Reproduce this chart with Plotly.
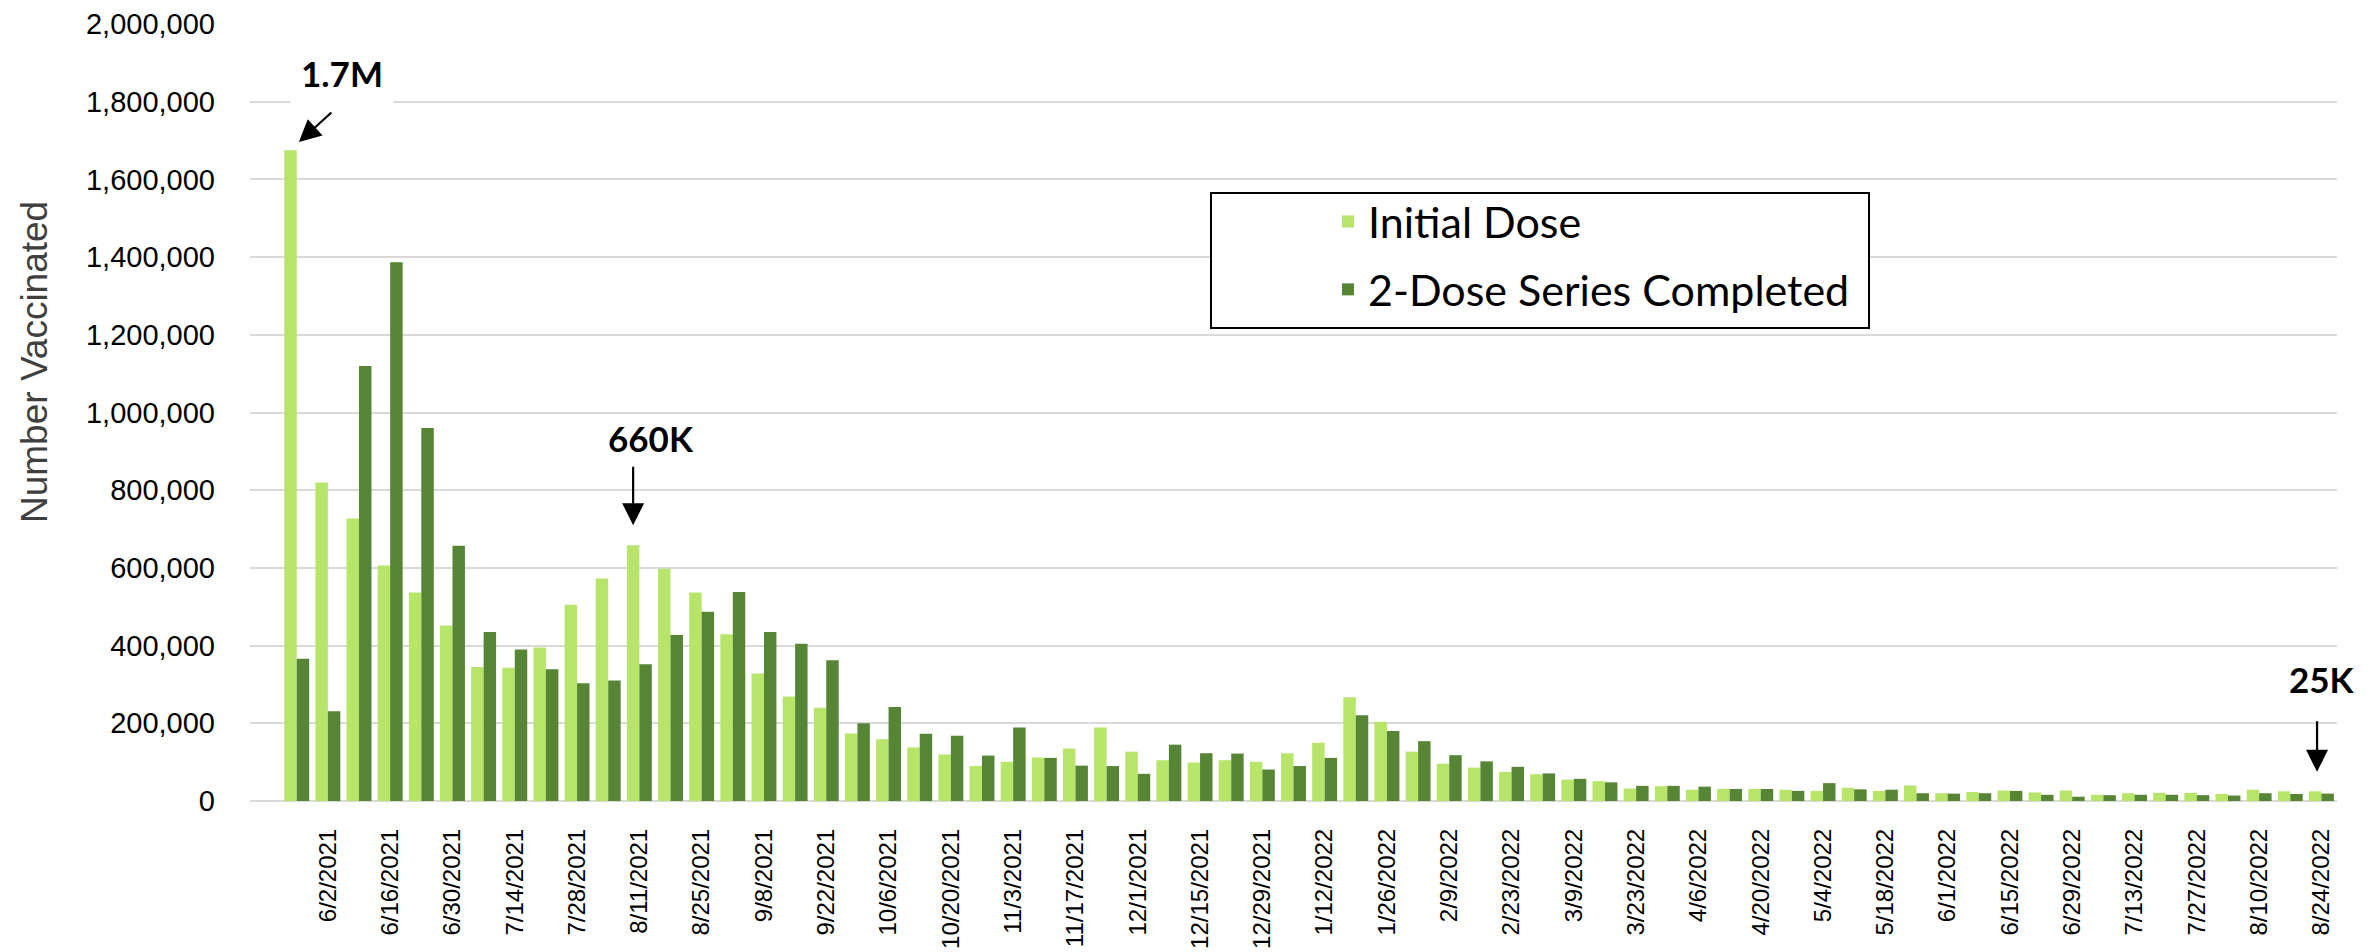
import plotly.graph_objects as go

weeks = [
    "5/26/2021", "6/2/2021", "6/9/2021", "6/16/2021", "6/23/2021", "6/30/2021",
    "7/7/2021", "7/14/2021", "7/21/2021", "7/28/2021", "8/4/2021", "8/11/2021",
    "8/18/2021", "8/25/2021", "9/1/2021", "9/8/2021", "9/15/2021", "9/22/2021",
    "9/29/2021", "10/6/2021", "10/13/2021", "10/20/2021", "10/27/2021", "11/3/2021",
    "11/10/2021", "11/17/2021", "11/24/2021", "12/1/2021", "12/8/2021", "12/15/2021",
    "12/22/2021", "12/29/2021", "1/5/2022", "1/12/2022", "1/19/2022", "1/26/2022",
    "2/2/2022", "2/9/2022", "2/16/2022", "2/23/2022", "3/2/2022", "3/9/2022",
    "3/16/2022", "3/23/2022", "3/30/2022", "4/6/2022", "4/13/2022", "4/20/2022",
    "4/27/2022", "5/4/2022", "5/11/2022", "5/18/2022", "5/25/2022", "6/1/2022",
    "6/8/2022", "6/15/2022", "6/22/2022", "6/29/2022", "7/6/2022", "7/13/2022",
    "7/20/2022", "7/27/2022", "8/3/2022", "8/10/2022", "8/17/2022", "8/24/2022",
]

initial_dose = [
    1675000, 820000, 727000, 606000, 537000, 452000,
    345000, 343000, 395000, 505000, 573000, 658000,
    598000, 537000, 429000, 328000, 269000, 240000,
    174000, 159000, 138000, 120000, 90000, 101000,
    112000, 135000, 189000, 127000, 105000, 99000,
    105000, 101000, 123000, 150000, 267000, 204000,
    127000, 96000, 86000, 75000, 69000, 55000,
    51000, 32000, 38000, 29000, 31000, 31000,
    29000, 26000, 34000, 26000, 40000, 20000,
    23000, 27000, 22000, 27000, 16000, 20000,
    21000, 21000, 18000, 29000, 25000, 25000,
]

series_completed = [
    366000, 231000, 1120000, 1387000, 960000, 657000,
    435000, 390000, 339000, 303000, 310000, 352000,
    427000, 487000, 538000, 435000, 405000, 362000,
    200000, 242000, 173000, 168000, 117000, 189000,
    111000, 91000, 90000, 70000, 145000, 123000,
    122000, 81000, 90000, 111000, 221000, 180000,
    154000, 118000, 102000, 88000, 71000, 57000,
    48000, 39000, 39000, 37000, 31000, 31000,
    26000, 46000, 30000, 29000, 20000, 19000,
    20000, 26000, 16000, 11000, 15000, 16000,
    16000, 15000, 14000, 20000, 18000, 19000,
]

tick_labels = weeks[1::2]
y_ticks = [0, 200000, 400000, 600000, 800000, 1000000, 1200000,
           1400000, 1600000, 1800000, 2000000]

LIGHT = "#B7E56A"
DARK = "#568536"
SANS = "Liberation Sans, Arial, sans-serif"
CAL = "Lato, Carlito, Calibri, sans-serif"

fig = go.Figure()
fig.add_trace(go.Bar(name="Initial Dose", x=weeks, y=initial_dose,
                     legendgroup="a",
                     marker=dict(color=LIGHT, line=dict(width=0))))
fig.add_trace(go.Bar(name="2-Dose Series Completed", x=weeks, y=series_completed,
                     legendgroup="b",
                     marker=dict(color=DARK, line=dict(width=0))))

# the page body adds an 8px offset; margins compensate so the plot lands in place
OFF = 8
W, H = 2379, 952
L, R, T, B = 250 - OFF, 42 + OFF, 24 - OFF, 151 + OFF
pw, ph = W - L - R, H - T - B


def px_x(p):
    return (p - OFF - L) / pw


def px_y(p):
    return 1 - (p - OFF - T) / ph


fig.update_layout(
    width=W, height=H,
    margin=dict(l=L, r=R, t=T, b=B, pad=0, autoexpand=False),
    paper_bgcolor="white", plot_bgcolor="white",
    barmode="group", bargap=0.2, bargroupgap=0,
    showlegend=True,
    legend=dict(x=px_x(1328), y=px_y(187), xanchor="left", yanchor="top",
                bgcolor="rgba(0,0,0,0)", borderwidth=0,
                font=dict(family=CAL, size=43, color="black"),
                tracegroupgap=9, itemsizing="constant"),
    xaxis=dict(type="category", range=[-1.5, len(weeks) - 0.5], automargin=False,
               tickmode="array", tickvals=tick_labels, ticktext=tick_labels,
               tickangle=-90, ticks="", showgrid=False, showline=False,
               ticklabelstandoff=22,
               tickfont=dict(family=SANS, size=24, color="black")),
    yaxis=dict(range=[0, 2000000], tickmode="array", tickvals=y_ticks, automargin=False,
               tickformat=",d", showgrid=True, gridcolor="#D9D9D9", gridwidth=2,
               zeroline=True, zerolinecolor="#D9D9D9", zerolinewidth=2,
               showline=False, ticks="", ticklabelstandoff=34,
               tickfont=dict(family=SANS, size=29, color="black")),
)

# y-axis title (placed like the reference, above the vertical centre)
fig.add_annotation(text="Number Vaccinated", textangle=-90, showarrow=False,
                   xref="paper", yref="paper", x=px_x(34), y=px_y(362),
                   xanchor="center", yanchor="middle",
                   font=dict(family=SANS, size=37, color="#404040"))

# legend frame
fig.add_shape(type="rect", xref="paper", yref="paper",
              x0=px_x(1211), x1=px_x(1869), y0=px_y(328), y1=px_y(193),
              line=dict(color="black", width=2), fillcolor="white", layer="above")

# annotations derived from data
peak_i = max(range(len(initial_dose)), key=lambda i: initial_dose[i])
peak = initial_dose[peak_i]
mid_i = weeks.index("8/11/2021")
mid = initial_dose[mid_i]
last_i = len(weeks) - 1
last = initial_dose[last_i]

arrow_kw = dict(showarrow=True, arrowhead=2, arrowsize=2.0, arrowwidth=2.2,
                arrowcolor="black", axref="pixel", ayref="pixel", text="",
                xref="x", yref="y", standoff=0, startstandoff=0)
lab_kw = dict(showarrow=False, xref="x", yref="y",
              font=dict(family=CAL, size=35, color="black", weight="bold"))

fig.add_annotation(x=peak_i + 1.45, y=peak + 200000, text="<b>1.7M</b>",
                   bgcolor="white", borderpad=10, **lab_kw)
fig.add_annotation(x=peak_i + 0.07, y=peak + 21000, ax=34, ay=-31, **arrow_kw)

fig.add_annotation(x=mid_i + 0.37, y=mid + 276000, text="<b>660K</b>", **lab_kw)
fig.add_annotation(x=mid_i - 0.2, y=mid + 52000, ax=0, ay=-60, **arrow_kw)

fig.add_annotation(x=last_i + 0.02, y=last + 290000, text="<b>25K</b>", **lab_kw)
fig.add_annotation(x=last_i - 0.14, y=last + 50000, ax=0, ay=-52, **arrow_kw)

fig.write_html("out.html")
